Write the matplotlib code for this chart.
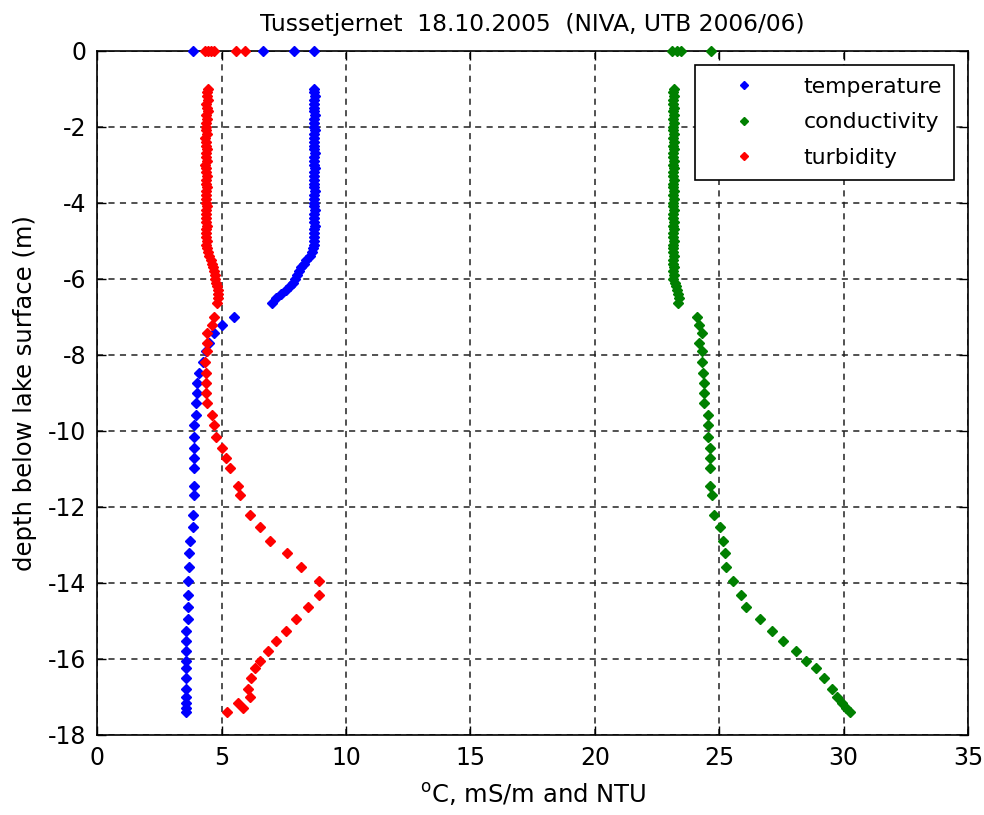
import matplotlib
matplotlib.use("Agg")

import matplotlib.pyplot as plt

plt.rcParams["font.family"] = ["DejaVu Sans"]
plt.rcParams["mathtext.default"] = "regular"
plt.rcParams["axes.unicode_minus"] = False

# --- Surface readings (depth 0) ---------------------------------------------
surf_temp = [3.84, 6.67, 7.91, 8.71]
surf_cond = [23.10, 23.30, 23.45, 24.68]
surf_turb = [4.33, 4.46, 4.55, 4.69, 5.57, 5.94]

# --- Profile depths (m) -----------------------------------------------------
depth = [
    -1.0, -1.1, -1.2, -1.3, -1.4, -1.5, -1.6, -1.7, -1.8, -1.9,
    -2.0, -2.1, -2.2, -2.3, -2.4, -2.5, -2.6, -2.7, -2.8, -2.9,
    -3.0, -3.1, -3.2, -3.3, -3.4, -3.5, -3.6, -3.7, -3.8, -3.9,
    -4.0, -4.1, -4.2, -4.3, -4.4, -4.5, -4.6, -4.7, -4.8, -4.9,
    -5.0, -5.1, -5.2,
    -5.3, -5.4, -5.5, -5.6, -5.7, -5.8, -5.9, -6.0, -6.1, -6.2,
    -6.3, -6.4, -6.5, -6.65,
    -7.0, -7.22, -7.44, -7.68, -7.89, -8.18, -8.47, -8.74, -9.0, -9.26,
    -9.59, -9.85, -10.16, -10.46, -10.72, -10.99, -11.46, -11.69, -12.22, -12.53,
    -12.89, -13.23, -13.58, -13.96, -14.32, -14.65, -14.96, -15.26, -15.53, -15.8,
    -16.06, -16.25, -16.52, -16.8, -17.0, -17.17, -17.3, -17.4,
]

temperature = [
    8.72, 8.70, 8.74, 8.71, 8.69, 8.72, 8.70, 8.73, 8.71, 8.70,
    8.72, 8.74, 8.71, 8.70, 8.72, 8.69, 8.71, 8.73, 8.70, 8.72,
    8.71, 8.74, 8.70, 8.72, 8.71, 8.69, 8.72, 8.73, 8.70, 8.71,
    8.72, 8.70, 8.74, 8.71, 8.72, 8.70, 8.73, 8.71, 8.70, 8.72,
    8.71, 8.69, 8.68,
    8.62, 8.55, 8.40, 8.30, 8.20, 8.12, 8.02, 7.95, 7.85, 7.75,
    7.58, 7.40, 7.20, 7.01,
    5.50, 5.00, 4.69, 4.50, 4.37, 4.24, 4.10, 4.02, 4.00, 3.97,
    3.97, 3.89, 3.89, 3.89, 3.89, 3.89, 3.89, 3.89, 3.84, 3.84,
    3.72, 3.70, 3.70, 3.63, 3.63, 3.63, 3.63, 3.57, 3.57, 3.57,
    3.57, 3.57, 3.57, 3.57, 3.57, 3.57, 3.57, 3.57,
]

conductivity = [
    23.18, 23.15, 23.20, 23.16, 23.14, 23.18, 23.16, 23.19, 23.15, 23.17,
    23.16, 23.14, 23.18, 23.15, 23.17, 23.16, 23.19, 23.15, 23.16, 23.18,
    23.14, 23.17, 23.16, 23.15, 23.18, 23.16, 23.14, 23.17, 23.15, 23.18,
    23.16, 23.15, 23.17, 23.14, 23.16, 23.18, 23.15, 23.17, 23.16, 23.15,
    23.18, 23.16, 23.14,
    23.15, 23.18, 23.14, 23.16, 23.20, 23.15, 23.18, 23.16, 23.22, 23.27,
    23.30, 23.36, 23.38, 23.34,
    24.12, 24.20, 24.30, 24.20, 24.30, 24.30, 24.34, 24.39, 24.39, 24.39,
    24.53, 24.53, 24.53, 24.64, 24.64, 24.64, 24.64, 24.70, 24.80, 25.04,
    25.15, 25.21, 25.28, 25.55, 25.87, 26.08, 26.65, 27.12, 27.58, 28.10,
    28.50, 28.90, 29.22, 29.53, 29.73, 29.93, 30.10, 30.26,
]

turbidity = [
    4.45, 4.42, 4.40, 4.44, 4.38, 4.41, 4.43, 4.36, 4.40, 4.38,
    4.35, 4.37, 4.40, 4.34, 4.38, 4.36, 4.40, 4.35, 4.37, 4.39,
    4.34, 4.38, 4.36, 4.40, 4.37, 4.35, 4.39, 4.36, 4.38, 4.35,
    4.37, 4.40, 4.36, 4.38, 4.35, 4.37, 4.39, 4.36, 4.38, 4.37,
    4.40, 4.38, 4.42,
    4.45, 4.50, 4.58, 4.62, 4.66, 4.68, 4.72, 4.75, 4.78, 4.80,
    4.85, 4.87, 4.86, 4.80,
    4.69, 4.60, 4.42, 4.42, 4.40, 4.33, 4.37, 4.37, 4.37, 4.42,
    4.60, 4.69, 4.77, 5.03, 5.16, 5.34, 5.67, 5.74, 6.14, 6.54,
    6.94, 7.61, 8.18, 8.93, 8.93, 8.45, 7.99, 7.59, 7.19, 6.88,
    6.54, 6.34, 6.17, 6.07, 6.14, 5.67, 5.87, 5.20,
]

COLORS = {"temperature": "#0000ff", "conductivity": "#008000", "turbidity": "#ff0000"}


def main():
    fig = plt.figure(figsize=(9.84, 8.15), dpi=100)
    ax = fig.add_axes([0.0989, 0.0985, 0.8849, 0.8393])

    series = [
        ("temperature", temperature, surf_temp),
        ("conductivity", conductivity, surf_cond),
        ("turbidity", turbidity, surf_turb),
    ]
    mk = dict(marker="D", markersize=4.8, linestyle="none", clip_on=False, zorder=3)
    for name, prof, surf in series:
        c = COLORS[name]
        ax.plot(prof, depth, color=c, markeredgecolor=c, label=name, **mk)
        ax.plot(surf, [0] * len(surf), color=c, markeredgecolor=c, **mk)

    ax.set_xlim(0, 35)
    ax.set_ylim(-18, 0)
    ax.set_xticks(range(0, 36, 5))
    ax.set_yticks(range(-18, 1, 2))
    ax.grid(True, color="#222222", linestyle=(0, (4, 3.5)), linewidth=1.1)
    ax.tick_params(direction="in", length=6.5, width=1, top=True, right=True,
                   labelsize=17, pad=8)
    for sp in ax.spines.values():
        sp.set_linewidth(1.2)

    ax.set_title("Tussetjernet  18.10.2005  (NIVA, UTB 2006/06)", fontsize=16.8, pad=14)
    ax.set_xlabel(r"$^{o}$C, mS/m and NTU", fontsize=17.5, labelpad=8)
    ax.set_ylabel("depth below lake surface (m)", fontsize=17.5, labelpad=8)

    leg = ax.legend(loc="upper right", bbox_to_anchor=(0.984, 0.979), borderaxespad=0,
                    fontsize=15.8, fancybox=False, framealpha=1, edgecolor="black",
                    handlelength=3.4, handletextpad=1.0, borderpad=0.55,
                    labelspacing=0.7, markerscale=0.9)
    leg.get_frame().set_linewidth(1.2)

    fig.savefig("out.png", dpi=100)
    plt.close(fig)


if __name__ == "__main__":
    main()
